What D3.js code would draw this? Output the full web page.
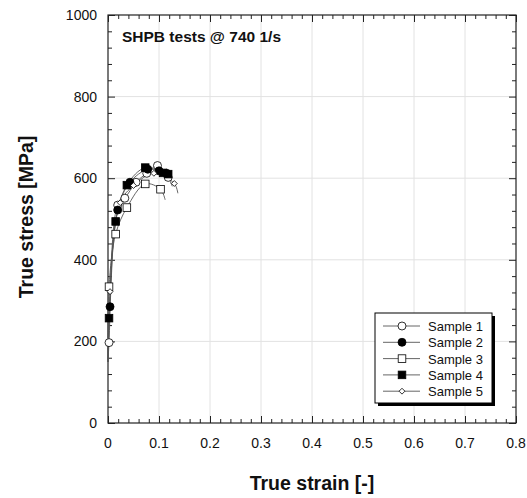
<!doctype html>
<html>
<head>
<meta charset="utf-8"/>
<script src="https://cdnjs.cloudflare.com/ajax/libs/d3/7.8.5/d3.min.js"></script>
<style>
  body { margin: 0; background: #fff; }
  text { font-family: "Liberation Sans", Arial, sans-serif; fill: #111; }
  .grid line { stroke: #e2e2e2; stroke-width: 1px; }
  .tick-label { font-size: 14px; }
  .axis-title { font-size: 19.5px; font-weight: bold; }
  .curve { fill: none; stroke: #555; stroke-width: 0.9px; }
</style>
</head>
<body>
<svg width="527" height="498"></svg>
<script>
// tick values
var xTicks = [0, 0.1, 0.2, 0.3, 0.4, 0.5, 0.6, 0.7, 0.8];
var yTicks = [0, 200, 400, 600, 800, 1000];

// [true strain, true stress MPa]; first and last point are line-only
var sample1 = [[0, 150], [0.002, 197], [0.019, 534], [0.033, 551], [0.055, 590], [0.076, 612], [0.097, 631], [0.118, 602], [0.126, 580]];
var sample2 = [[0, 150], [0.004, 285], [0.019, 522], [0.043, 590], [0.078, 622], [0.1, 618], [0.115, 612], [0.124, 600]];
var sample3 = [[0, 150], [0.002, 334], [0.015, 463], [0.037, 528], [0.073, 586], [0.103, 573], [0.112, 547]];
var sample4 = [[0, 150], [0.002, 257], [0.015, 494], [0.037, 583], [0.073, 626], [0.108, 613], [0.118, 610], [0.124, 598]];
var sample5 = [[0, 150], [0.004, 322], [0.024, 540], [0.05, 582], [0.09, 612], [0.13, 587], [0.137, 563]];

var seriesNames = ["Sample 1", "Sample 2", "Sample 3", "Sample 4", "Sample 5"];
var seriesData = [sample1, sample2, sample3, sample4, sample5];
var seriesMarks = ["circleOpen", "circleFill", "squareOpen", "squareFill", "diamond"];

drawChart();

function drawChart() {
var svg = d3.select("svg");
var mLeft = 108, mRight = 516, mTop = 15, mBottom = 423;

var x = d3.scaleLinear().domain([0, 0.8]).range([mLeft, mRight]);
var y = d3.scaleLinear().domain([0, 1000]).range([mBottom, mTop]);

// grid
var grid = svg.append("g").attr("class", "grid");
grid.selectAll("line.gx").data(xTicks.slice(1, -1)).enter().append("line")
  .attr("x1", d => x(d)).attr("x2", d => x(d)).attr("y1", mTop).attr("y2", mBottom);
grid.selectAll("line.gy").data(yTicks.slice(1, -1)).enter().append("line")
  .attr("y1", d => y(d)).attr("y2", d => y(d)).attr("x1", mLeft).attr("x2", mRight);

// ticks on all four sides, inward
var xMinor = d3.range(0, 0.8001, 0.02);
var yMinor = d3.range(0, 1000.1, 40);
function isMajorX(v) { return Math.abs(v * 10 - Math.round(v * 10)) < 1e-6; }
function isMajorY(v) { return Math.abs(v % 200) < 1e-6; }

var axisB = svg.append("g").attr("transform", "translate(0," + mBottom + ")")
  .call(d3.axisBottom(x).tickValues(xMinor).tickSize(0).tickFormat(""));
var axisT = svg.append("g").attr("transform", "translate(0," + mTop + ")")
  .call(d3.axisTop(x).tickValues(xMinor).tickSize(0).tickFormat(""));
var axisL = svg.append("g").attr("transform", "translate(" + mLeft + ",0)")
  .call(d3.axisLeft(y).tickValues(yMinor).tickSize(0).tickFormat(""));
var axisR = svg.append("g").attr("transform", "translate(" + mRight + ",0)")
  .call(d3.axisRight(y).tickValues(yMinor).tickSize(0).tickFormat(""));
[axisB, axisT, axisL, axisR].forEach(a => { a.select(".domain").remove(); a.selectAll(".tick text").remove(); });

axisB.selectAll(".tick line").attr("y2", d => isMajorX(d) ? -7 : -4);
axisT.selectAll(".tick line").attr("y2", d => isMajorX(d) ? 7 : 4);
axisL.selectAll(".tick line").attr("x2", d => isMajorY(d) ? 7 : 4);
axisR.selectAll(".tick line").attr("x2", d => isMajorY(d) ? -7 : -4);
svg.selectAll(".tick line").attr("stroke", "#222");

svg.append("rect").attr("x", mLeft).attr("y", mTop)
  .attr("width", mRight - mLeft).attr("height", mBottom - mTop)
  .attr("fill", "none").attr("stroke", "#222").attr("stroke-width", 1.2);

// tick labels
svg.append("g").selectAll("text").data(xTicks).enter().append("text")
  .attr("class", "tick-label").attr("x", d => x(d)).attr("y", mBottom + 25)
  .attr("text-anchor", "middle").text(d => d3.format("")(d));
svg.append("g").selectAll("text").data(yTicks).enter().append("text")
  .attr("class", "tick-label").attr("x", mLeft - 11).attr("y", d => y(d) + 5)
  .attr("text-anchor", "end").text(d => d);

// axis titles
svg.append("text").attr("class", "axis-title")
  .attr("x", x(0.4)).attr("y", 490).attr("text-anchor", "middle").text("True strain [-]");
svg.append("text").attr("class", "axis-title")
  .attr("transform", "translate(33," + y(505) + ") rotate(-90)")
  .attr("text-anchor", "middle").text("True stress [MPa]");

svg.append("text").attr("x", 122).attr("y", 42)
  .style("font-size", "15.5px").style("font-weight", "bold").text("SHPB tests @ 740 1/s");

// markers
function drawMark(g, kind) {
  if (kind === "circleOpen" || kind === "circleFill") {
    g.append("circle").attr("r", 4)
      .attr("fill", kind === "circleFill" ? "#000" : "#fff").attr("stroke", "#000").attr("stroke-width", 0.8);
  } else if (kind === "squareOpen" || kind === "squareFill") {
    g.append("rect").attr("x", -3.8).attr("y", -3.8).attr("width", 7.6).attr("height", 7.6)
      .attr("fill", kind === "squareFill" ? "#000" : "#fff").attr("stroke", "#000").attr("stroke-width", 0.8);
  } else {
    g.append("path").attr("d", d3.symbol(d3.symbolDiamond2, 22)())
      .attr("fill", "#fff").attr("stroke", "#000").attr("stroke-width", 0.8);
  }
}

var line = d3.line().x(d => x(d[0])).y(d => y(d[1])).curve(d3.curveCatmullRom.alpha(0.5));

var plot = svg.append("g");
seriesData.forEach(pts => {
  plot.append("path").attr("class", "curve").attr("d", line(pts));
});
seriesData.forEach((pts, i) => {
  pts.slice(1, -1).forEach(p => {
    var g = plot.append("g").attr("transform", "translate(" + x(p[0]) + "," + y(p[1]) + ")");
    drawMark(g, seriesMarks[i]);
  });
});

// legend
var lg = svg.append("g").attr("transform", "translate(375,313)");
lg.append("rect").attr("x", 3).attr("y", 3).attr("width", 117).attr("height", 90).attr("fill", "#000");
lg.append("rect").attr("x", 0).attr("y", 0).attr("width", 117).attr("height", 90)
  .attr("fill", "#fff").attr("stroke", "#000").attr("stroke-width", 1);
seriesNames.forEach((name, i) => {
  var ry = 13 + i * 16.3;
  lg.append("line").attr("x1", 8).attr("x2", 45).attr("y1", ry).attr("y2", ry)
    .attr("stroke", "#555").attr("stroke-width", 0.9);
  drawMark(lg.append("g").attr("transform", "translate(27," + ry + ")"), seriesMarks[i]);
  lg.append("text").attr("x", 53).attr("y", ry + 5).style("font-size", "13px").text(name);
});
}
</script>
</body>
</html>
